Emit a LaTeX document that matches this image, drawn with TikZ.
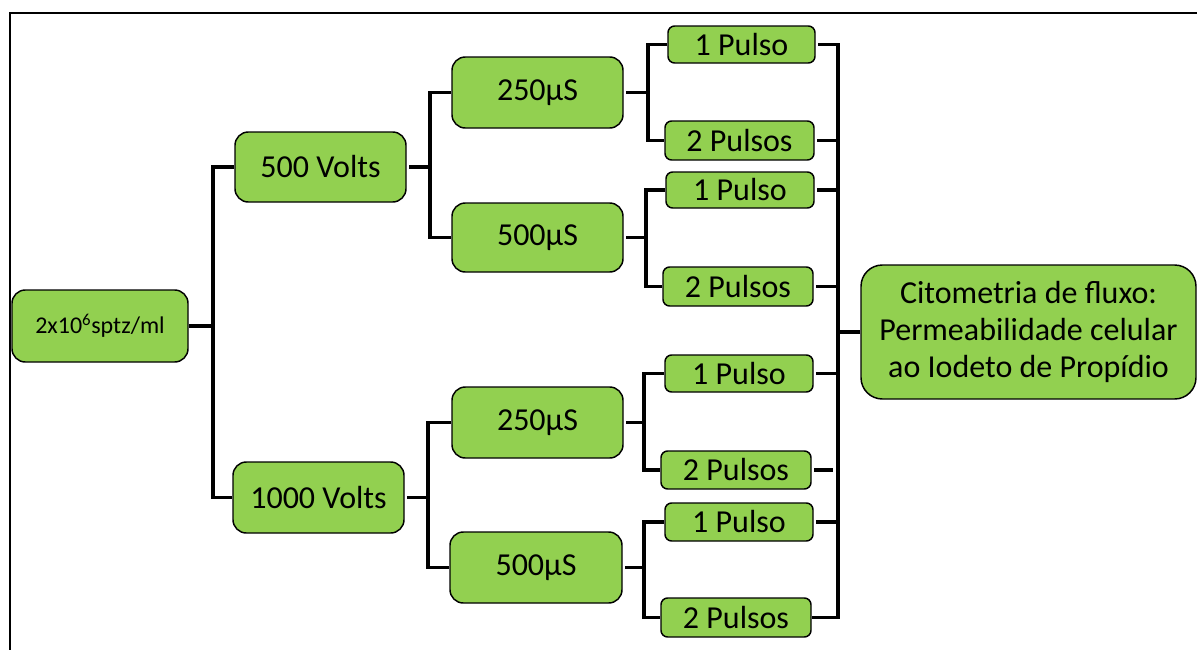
\documentclass[tikz,border=0pt]{standalone}
\usepackage{fontspec}
\setmainfont{Carlito}
\definecolor{boxgreen}{HTML}{92D050}
\begin{document}
\begin{tikzpicture}[x=0.75pt,y=-0.75pt,
  box/.style={draw=black,line width=1.1pt,fill=boxgreen,inner sep=0pt,
    rounded corners=10pt,font=\fontsize{24}{28}\selectfont,align=center},
  pulsebox/.style={box,rounded corners=5pt},
  bigbox/.style={box,rounded corners=16pt,font=\fontsize{24}{27.75}\selectfont},
  conn/.style={line width=2.8pt,line join=miter},
  outconn/.style={conn,shorten <=2pt}]
\useasboundingbox (0,0) rectangle (1197,650);
% outer frame
\draw[line width=0.8pt] (10,650) -- (10,13) -- (1197,13);

% sample
\node[box,minimum width=132pt,minimum height=54pt,font=\fontsize{18}{21}\selectfont]
  (root) at (100,326) {2x10\textsuperscript{6}sptz/ml};
% voltages
\node[box,minimum width=128.25pt,minimum height=52.5pt] (v500) at (320.5,167) {500 Volts};
\node[box,minimum width=128.25pt,minimum height=53.25pt] (v1000) at (318.5,497.5) {1000 Volts};
% pulse lengths
\node[box,minimum width=128.25pt,minimum height=53.25pt] (a250) at (537.5,92.5) {250µS};
\node[box,minimum width=128.25pt,minimum height=51.75pt] (a500) at (537.5,237.5) {500µS};
\node[box,minimum width=128.25pt,minimum height=53.25pt] (b250) at (537.5,422.5) {250µS};
\node[box,minimum width=129pt,minimum height=53.25pt] (b500) at (536,567.5) {500µS};
% number of pulses
\node[pulsebox,minimum width=110.25pt,minimum height=27.75pt] (p1) at (741.5,44.5) {1 Pulso};
\node[pulsebox,minimum width=111.75pt,minimum height=29.25pt] (p2) at (739.5,140.5) {2 Pulsos};
\node[pulsebox,minimum width=111pt,minimum height=27pt] (p3) at (740,190) {1 Pulso};
\node[pulsebox,minimum width=112.5pt,minimum height=29.25pt] (p4) at (738,286.5) {2 Pulsos};
\node[pulsebox,minimum width=111pt,minimum height=27.75pt] (p5) at (739,373.5) {1 Pulso};
\node[pulsebox,minimum width=112.5pt,minimum height=28.5pt] (p6) at (736,470) {2 Pulsos};
\node[pulsebox,minimum width=111pt,minimum height=28.5pt] (p7) at (739,522) {1 Pulso};
\node[pulsebox,minimum width=112.5pt,minimum height=29.25pt] (p8) at (736,617.5) {2 Pulsos};
% analysis
\node[bigbox,minimum width=251.25pt,minimum height=100.5pt] (cito) at (1028.5,332)
  {Citometria de fluxo:\\Permeabilidade celular\\ao Iodeto de Propídio};

% sample -> voltages
\draw[conn] (root.east) -- ++(24,0) coordinate (j0);
\draw[conn] (v500.west) -| (j0) |- (v1000.west);
% voltages -> pulse lengths
\draw[outconn] (v500.east) -- ++(23,0) coordinate (j1);
\draw[conn] (a250.west) -| (j1) |- (a500.west);
\draw[outconn] (v1000.east) -- ++(23,0) coordinate (j2);
\draw[conn] (b250.west) -| (j2) |- (b500.west);
% pulse lengths -> number of pulses
\draw[outconn] (a250.east) -- ++(24,0) coordinate (k1);
\draw[conn] (p1.west) -| (k1) |- (p2.west);
\draw[outconn] (a500.east) -- ++(22,0) coordinate (k2);
\draw[conn] (p3.west) -| (k2) |- (p4.west);
\draw[outconn] (b250.east) -- ++(20,0) coordinate (k3);
\draw[conn] (p5.west) -| (k3) |- (p6.west);
\draw[outconn] (b500.east) -- ++(21,0) coordinate (k4);
\draw[conn] (p7.west) -| (k4) |- (p8.west);
% collecting bus
\coordinate (bt) at (838,44.5);
\draw[outconn] (p1.east) -- (bt) |- (p8.east);
\draw[outconn] (p2.east) -- (p2.east -| bt);
\draw[outconn] (p3.east) -- (p3.east -| bt);
\draw[outconn] (p4.east) -- (p4.east -| bt);
\draw[outconn] (p5.east) -- (p5.east -| bt);
\draw[outconn] (p6.east) -- ++(21,0) coordinate (p6tip);
\draw[outconn] (p7.east) -- (p7.east -| bt);
\draw[conn] (cito.west) -- (cito.west -| bt);
\end{tikzpicture}
\end{document}
